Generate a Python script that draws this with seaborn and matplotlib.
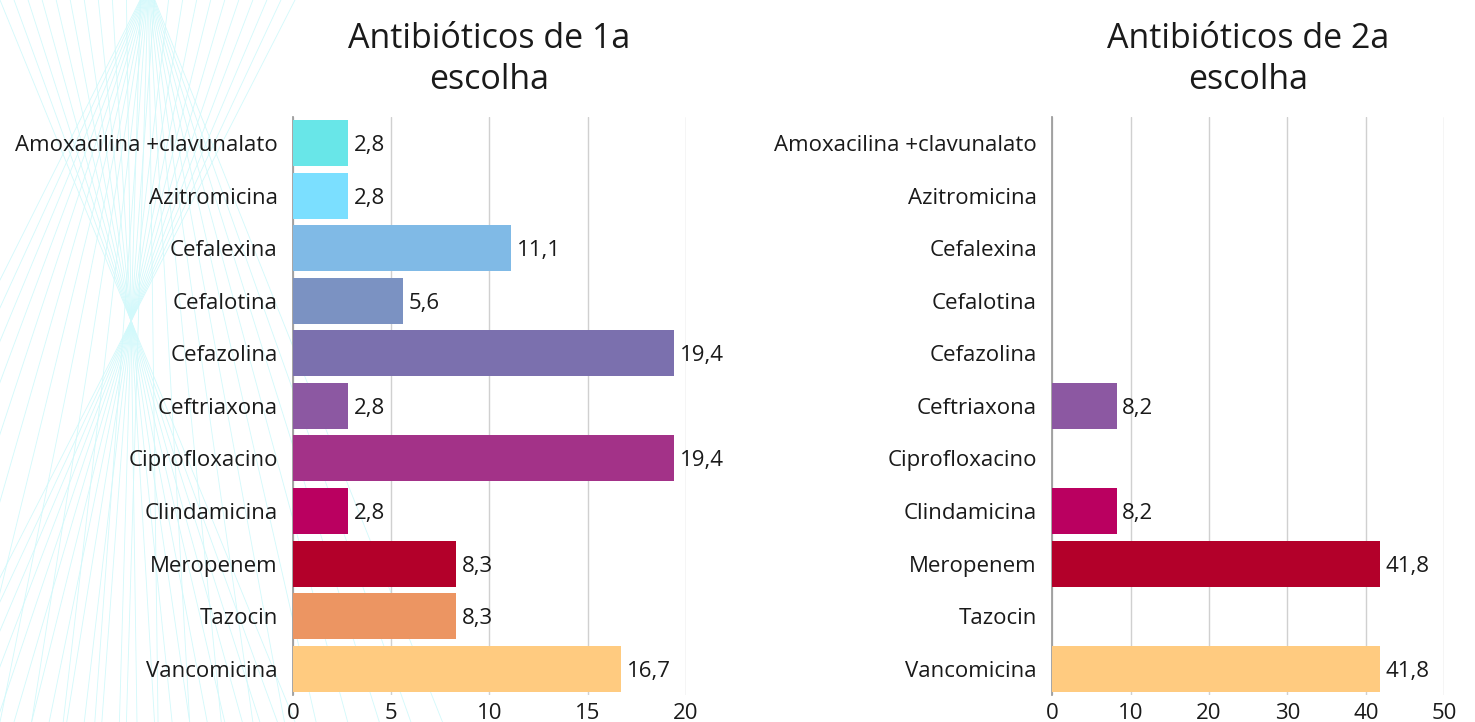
import numpy as np
import pandas as pd
import seaborn as sns
import matplotlib.pyplot as plt
from matplotlib.lines import Line2D

sns.set_theme(style="white")
plt.rcParams['font.family'] = ['Open Sans', 'DejaVu Sans']

# data
antibioticos = ["Amoxacilina +clavunalato", "Azitromicina", "Cefalexina", "Cefalotina",
                "Cefazolina", "Ceftriaxona", "Ciprofloxacino", "Clindamicina",
                "Meropenem", "Tazocin", "Vancomicina"]
primeira = [2.8, 2.8, 11.1, 5.6, 19.4, 2.8, 19.4, 2.8, 8.3, 8.3, 16.7]
segunda = [np.nan, np.nan, np.nan, np.nan, np.nan, 8.2, np.nan, 8.2, 41.8, np.nan, 41.8]
cores = ["#68E6E8", "#7BDFFF", "#80BAE6", "#7B92C2", "#7B70AE", "#8C58A2",
         "#A33288", "#BA0060", "#B3002A", "#EC9562", "#FFCB80"]
paleta = dict(zip(antibioticos, cores))

fig = plt.figure(figsize=(14.75, 7.22), dpi=100)

# decorative string-art lines in the background (left side)
n = 22
for i in range(n):
    t = i / (n - 1)
    fig.add_artist(Line2D([0.095 + 0.01 * t, -0.15 + 0.45 * t], [1.0, 0.0],
                          transform=fig.transFigure, color="#d2f9fb", lw=0.6, zorder=0))
    fig.add_artist(Line2D([0.0 + 0.2 * t, 0.2 - 0.25 * t], [1.0, 0.0],
                          transform=fig.transFigure, color="#d2f9fb", lw=0.6, zorder=0))

ax1 = fig.add_axes([0.1986, 0.0374, 0.2665, 0.801])
ax2 = fig.add_axes([0.7134, 0.0374, 0.2658, 0.801])


def desenha(ax, valores, titulo, xmax, passo):
    df = pd.DataFrame({"antibiotico": antibioticos, "valor": valores})
    sns.barplot(data=df, y="antibiotico", x="valor", hue="antibiotico", order=antibioticos,
                hue_order=antibioticos, palette=paleta, legend=False, width=0.875,
                saturation=1, linewidth=0, ax=ax, zorder=3)
    for i, v in enumerate(valores):
        if not np.isnan(v):
            ax.text(v + xmax * 0.014, i, f"{v:.1f}".replace(".", ","), va="center_baseline",
                    ha="left", fontsize=16, color="#1a1a1a", zorder=4)
    ax.set_xlim(0, xmax)
    ax.set_xticks(np.arange(0, xmax + 1, passo))
    ax.set_xlabel("")
    ax.set_ylabel("")
    ax.patch.set_alpha(0)
    ax.grid(axis="x", color="#d0d0d0", lw=1, zorder=0)
    for s in ["top", "right", "bottom"]:
        ax.spines[s].set_visible(False)
    ax.spines["left"].set_color("#9a9a9a")
    ax.tick_params(axis="both", length=0, labelsize=16, colors="#1a1a1a")
    ax.tick_params(axis="y", pad=11)
    ax.tick_params(axis="x", pad=6)
    ax.set_title(titulo, fontsize=24.5, color="#1a1a1a", pad=20, linespacing=1.25)


desenha(ax1, primeira, "Antibióticos de 1a\nescolha", 20, 5)
desenha(ax2, segunda, "Antibióticos de 2a\nescolha", 50, 10)

fig.savefig("out.png", dpi=100)
